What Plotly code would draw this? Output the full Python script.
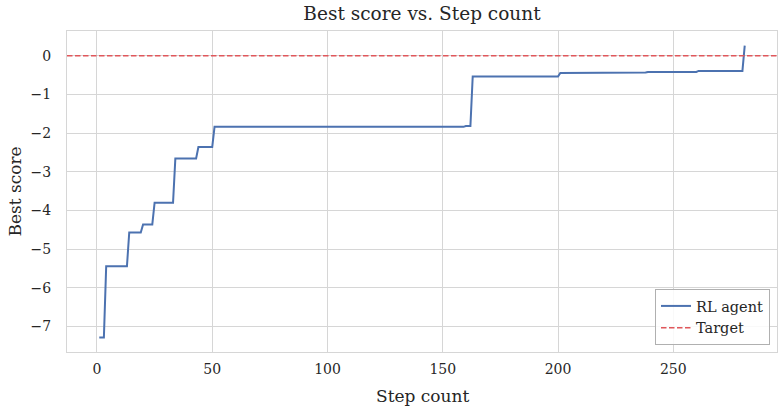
import plotly.graph_objects as go

# step at which the best score changes (points of the curve)
steps = [1, 3, 4, 13, 14, 19, 20, 24, 25, 33, 34, 43, 44, 50, 51, 159, 160, 162,
         163, 200, 201, 220, 221, 238, 239, 260, 261, 280, 281]
best_score = [-7.28, -7.28, -5.44, -5.44, -4.57, -4.57, -4.36, -4.36, -3.80, -3.80,
              -2.66, -2.66, -2.36, -2.36, -1.84, -1.84, -1.82, -1.82, -0.54, -0.54,
              -0.445, -0.445, -0.435, -0.435, -0.42, -0.42, -0.395, -0.395, 0.26]
target = 0.0

x_ticks = [0, 50, 100, 150, 200, 250]
y_ticks = [0, -1, -2, -3, -4, -5, -6, -7]

font_serif = "DejaVu Serif"
grid_col = "#d6d6d6"
txt_col = "#262626"

# plot area in pixels (matches the matplotlib axes)
L, R, T, B = 67, 7, 31, 60
W, H = 784, 412

fig = go.Figure()

fig.add_trace(go.Scatter(
    x=steps, y=best_score, mode="lines", name="RL agent",
    line=dict(color="#4c72b0", width=2),
))

x_lo = steps[0] - 0.05 * (steps[-1] - steps[0])
x_hi = steps[-1] + 0.05 * (steps[-1] - steps[0])

fig.add_trace(go.Scatter(
    x=[x_lo, x_hi], y=[target, target], mode="lines", name="Target",
    line=dict(color="#e0575b", width=1.5, dash="5.5px,2.5px"),
))

y_span = max(best_score) - min(best_score)

fig.update_layout(
    width=W, height=H,
    paper_bgcolor="white", plot_bgcolor="white",
    font=dict(family=font_serif, size=14, color=txt_col),
    title=dict(text="Best score vs. Step count", x=(L + W - R) / 2 / W, xanchor="center",
               y=1 - 14 / H, yanchor="middle", font=dict(size=18.5, color=txt_col)),
    margin=dict(l=L, r=R, t=T, b=B, autoexpand=False),
    showlegend=True,
    legend=dict(x=(W - 14 - L) / (W - L - R), y=7 / (H - T - B), xanchor="right", yanchor="bottom",
                bgcolor="rgba(255,255,255,0.85)", bordercolor="#b0b0b0", borderwidth=1,
                font=dict(size=14.5), tracegroupgap=0, itemwidth=30),
    xaxis=dict(
        range=[x_lo, x_hi], tickvals=x_ticks, showgrid=True, gridcolor=grid_col,
        gridwidth=1, zeroline=False, showline=True, linecolor=grid_col, linewidth=1,
        mirror=True, ticks="", ticklabelstandoff=4, tickfont=dict(size=14),
        automargin=False,
    ),
    yaxis=dict(
        range=[min(best_score) - 0.05 * y_span, max(best_score) + 0.05 * y_span],
        tickvals=y_ticks, showgrid=True, gridcolor=grid_col, gridwidth=1,
        zeroline=False, showline=True, linecolor=grid_col, linewidth=1, mirror=True,
        ticks="", ticklabelstandoff=12, tickfont=dict(size=14), automargin=False,
    ),
    annotations=[
        dict(text="Step count", xref="paper", yref="paper",
             x=0.5, y=-(396 - (H - B)) / (H - T - B), xanchor="center", yanchor="middle",
             showarrow=False, font=dict(size=17, color=txt_col)),
        dict(text="Best score", xref="paper", yref="paper", textangle=-90,
             x=-(L - 14) / (W - L - R), y=0.5, xanchor="center", yanchor="middle",
             showarrow=False, font=dict(size=17, color=txt_col)),
    ],
)

# drop the browser's default body margin so the figure sits at the page corner
fig.write_html("out.html", config={"displayModeBar": False},
               post_script="document.body.style.margin='0';")
